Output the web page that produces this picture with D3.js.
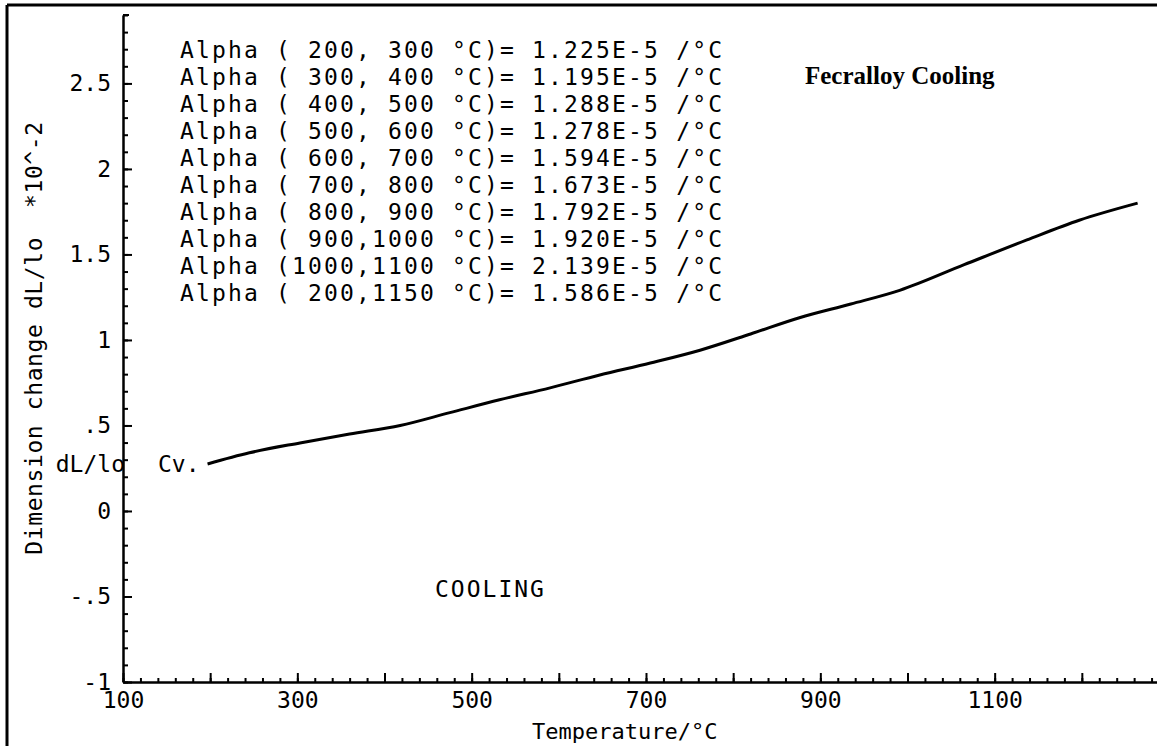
<!DOCTYPE html>
<html>
<head>
<meta charset="utf-8">
<script src="https://cdn.jsdelivr.net/npm/d3@7"></script>
<style>
  body { margin: 0; background: #fff; }
  svg { display: block; }
  .tick text, .mono { font-family: "DejaVu Sans Mono", monospace; fill: #000; }
  .domain, .tick line { stroke: #000; stroke-width: 2; }
</style>
</head>
<body>
<div id="chart"></div>
<script>
// ---- data ----
var temps = [197, 245, 303, 360, 418, 475, 532, 590, 647, 705, 762, 820, 876, 935, 991, 1065, 1137, 1197, 1264];
var dims  = [0.275, 0.34, 0.398, 0.45, 0.50, 0.575, 0.65, 0.72, 0.795, 0.865, 0.94, 1.035, 1.13, 1.21, 1.29, 1.44, 1.585, 1.70, 1.80];

var xLabels = [100, 300, 500, 700, 900, 1100];
var yLabels = [-1, -0.5, 0, 0.5, 1, 1.5, 2, 2.5];

var alphaRanges = [" 200, 300", " 300, 400", " 400, 500", " 500, 600", " 600, 700",
                   " 700, 800", " 800, 900", " 900,1000", "1000,1100", " 200,1150"];
var alphaValues = ["1.225E-5", "1.195E-5", "1.288E-5", "1.278E-5", "1.594E-5",
                   "1.673E-5", "1.792E-5", "1.920E-5", "2.139E-5", "1.586E-5"];

var width = 1157, height = 746;

var svg = d3.select('#chart').append('svg')
  .attr('width', width)
  .attr('height', height);

// scanned frame (left + top edges only)
svg.append('line').attr('x1', 7).attr('y1', 5).attr('x2', 7).attr('y2', height)
  .attr('stroke', '#000').attr('stroke-width', 3);
svg.append('line').attr('x1', 7).attr('y1', 5).attr('x2', width).attr('y2', 5)
  .attr('stroke', '#000').attr('stroke-width', 3);

var x = d3.scaleLinear().domain([100, 1300]).range([123, 1169]);
var y = d3.scaleLinear().domain([-1, 2.9]).range([682, 15]);

var fmtY = function (d) {
  if (d === 0) return '0';
  return (d < 0 ? '-' : '') + String(Math.abs(d)).replace(/^0/, '');
};

// x axis: minor ticks every 20, major every 100, labels every 200
svg.append('g').attr('transform', 'translate(0,' + y(-1) + ')')
  .call(d3.axisBottom(x).tickValues(d3.range(100, 1300, 20)).tickSizeInner(-4).tickSizeOuter(0).tickFormat(''));
svg.append('g').attr('transform', 'translate(0,' + y(-1) + ')')
  .call(d3.axisBottom(x).tickValues(d3.range(100, 1300, 100)).tickSizeInner(-9).tickSizeOuter(0)
    .tickPadding(10)
    .tickFormat(function (d) { return xLabels.indexOf(d) >= 0 ? d : ''; }))
  .call(function (g) { g.selectAll('text').attr('font-size', 23); });

// y axis: minor ticks every .1, major every .5
svg.append('g').attr('transform', 'translate(' + x(100) + ',0)')
  .call(d3.axisLeft(y).tickValues(d3.range(-10, 30).map(function (i) { return i / 10; })).tickSizeInner(-5).tickSizeOuter(0).tickFormat(''));
svg.append('g').attr('transform', 'translate(' + x(100) + ',0)')
  .call(d3.axisLeft(y).tickValues(yLabels).tickSizeInner(-9).tickSizeOuter(0).tickPadding(12).tickFormat(fmtY))
  .call(function (g) { g.selectAll('text').attr('font-size', 23); });

// top bracket of y axis
svg.append('line').attr('x1', x(100)).attr('x2', x(100) + 6).attr('y1', y(2.9)).attr('y2', y(2.9))
  .attr('stroke', '#000').attr('stroke-width', 2);

// the cooling curve
var line = d3.line()
  .x(function (d, i) { return x(d); })
  .y(function (d, i) { return y(dims[i]); })
  .curve(d3.curveMonotoneX);

svg.append('path')
  .datum(temps)
  .attr('d', line)
  .attr('fill', 'none')
  .attr('stroke', '#000')
  .attr('stroke-width', 3);

// alpha table
var table = svg.append('g');
alphaRanges.forEach(function (r, i) {
  table.append('text')
    .attr('class', 'mono')
    .attr('x', 180)
    .attr('y', 58 + i * 27)
    .attr('font-size', 23)
    .attr('textLength', 542)
    .attr('lengthAdjust', 'spacing')
    .style('white-space', 'pre')
    .text('Alpha (' + r + ' \u00B0C)= ' + alphaValues[i] + ' /\u00B0C');
});

// title
svg.append('text')
  .attr('x', 805).attr('y', 84)
  .attr('font-family', '"Liberation Serif", "Times New Roman", serif')
  .attr('font-weight', 'bold')
  .attr('font-size', 25)
  .text('Fecralloy Cooling');

// labels
svg.append('text').attr('class', 'mono').attr('font-size', 23)
  .attr('x', 125).attr('y', y(0.275) + 8).attr('text-anchor', 'end')
  .text('dL/lo');
svg.append('text').attr('class', 'mono').attr('font-size', 23)
  .attr('x', 158).attr('y', y(0.275) + 8)
  .text('Cv.');
svg.append('text').attr('class', 'mono').attr('font-size', 23)
  .attr('x', 435).attr('y', 597)
  .attr('letter-spacing', 2)
  .text('COOLING');
svg.append('text').attr('class', 'mono').attr('font-size', 22)
  .attr('x', 532).attr('y', 739)
  .text('Temperature/\u00B0C');
svg.append('text').attr('class', 'mono').attr('font-size', 23)
  .attr('transform', 'translate(42,338) rotate(-90)')
  .attr('text-anchor', 'middle')
  .attr('letter-spacing', 0.6)
  .style('white-space', 'pre')
  .text('Dimension change dL/lo  *10^-2');
</script>
</body>
</html>
